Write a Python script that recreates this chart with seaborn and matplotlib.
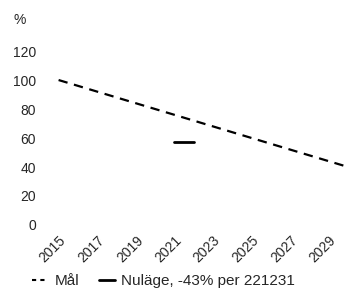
import numpy as np
import pandas as pd
import matplotlib
matplotlib.use('Agg')
import matplotlib.pyplot as plt
from matplotlib.lines import Line2D
import seaborn as sns

# data
goal_years = [2015, 2030]
goal_values = [100, 40]
now_years = [2021, 2022]
now_values = [57, 57]
xticks = list(range(2015, 2030, 2))
yticks = [0, 20, 40, 60, 80, 100, 120]
labels = ['Mål', 'Nuläge, -43% per 221231']

sns.set_style('white')
plt.rcParams['font.family'] = ['Liberation Sans', 'DejaVu Sans']

fig = plt.figure(figsize=(3.52, 3.02), dpi=100)
ax = fig.add_axes([0.15, 0.255, 0.85, 0.576])

goal = pd.DataFrame({'year': goal_years, 'value': goal_values})
now = pd.DataFrame({'year': now_years, 'value': now_values})

sns.lineplot(data=goal, x='year', y='value', ax=ax, color='black', lw=1.6,
             linestyle=(0, (4.2, 3.0)), legend=False)
sns.lineplot(data=now, x='year', y='value', ax=ax, color='black', lw=2,
             legend=False)

ax.set_xlim(2014.7, 2030.2)
ax.set_ylim(0, 120)
ax.set_xticks(xticks)
ax.set_xticklabels([str(y) for y in xticks], rotation=45, ha='right',
                   rotation_mode='anchor')
ax.set_yticks(yticks)
ax.tick_params(axis='y', length=0, labelsize=10, pad=12)
ax.tick_params(axis='x', length=0, labelsize=10, pad=6)
ax.set_xlabel('')
ax.set_ylabel('')
sns.despine(ax=ax, left=True, bottom=True)
ax.grid(False)

fig.text(0.038, 0.935, '%', fontsize=10, ha='left', va='center')

handles = [Line2D([], [], color='black', lw=1.5, linestyle=(0, (2, 2))),
           Line2D([], [], color='black', lw=2)]
fig.legend(handles, labels, loc='center', bbox_to_anchor=(0.465, 0.07),
           ncol=2, frameon=False, fontsize=11, handlelength=1.05,
           columnspacing=1.3, handletextpad=0.4)

fig.savefig('out.png', dpi=100)
